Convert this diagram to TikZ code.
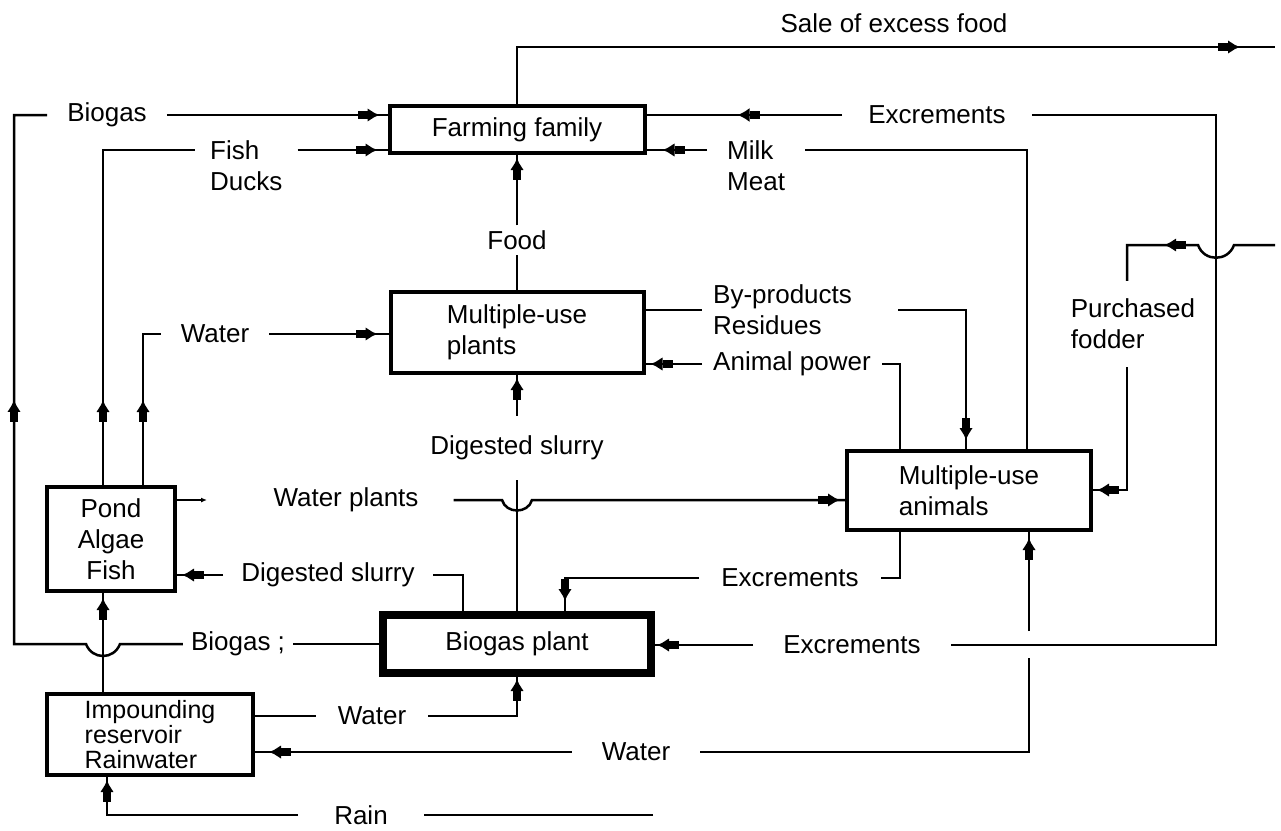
\documentclass[tikz,border=0pt]{standalone}
\usepackage{fontspec}
\setmainfont{Liberation Sans}
\usetikzlibrary{arrows.meta,decorations.markings,calc}
\newcommand\lblfont{\fontsize{26}{31}\selectfont}
\begin{document}
\begin{tikzpicture}[x=1pt,y=-1pt,
  >={Rectangle[length=10pt,width=8pt,sep=0pt]Latex[length=12pt,width=14pt]},
  conn/.style={line width=2.5pt},
  mk/.style={postaction={decorate,decoration={markings,mark=at position #1 with {\arrow{>}}}}},
  box/.style={draw,line width=4pt,inner sep=0pt,font=\lblfont},
  lbl/.style={inner xsep=20pt,inner ysep=6pt,font=\lblfont}]
\useasboundingbox (0,0) rectangle (1281,830);

% boxes
\node[box,minimum width=255pt,minimum height=47pt] (family) at (517,129.5) {Farming family};
\node[box,minimum width=253pt,minimum height=81pt,align=left] (plants) at (517,332.5) {Multiple-use\\plants};
\node[box,minimum width=244pt,minimum height=79pt,align=left] (animals) at (969,490.5) {Multiple-use\\animals};
\node[box,minimum width=128pt,minimum height=104pt,align=center] (pond) at (111,539) {Pond\\Algae\\Fish};
\node[box,line width=8pt,minimum width=268pt,minimum height=58pt] (bgp) at (517,644) {Biogas plant};
\node[box,minimum width=206pt,minimum height=81pt,align=left,font=\fontsize{25}{25}\selectfont] (res) at (150,734.5) {Impounding\\reservoir\\Rainwater};

% labels
\node[lbl] (sale) at (894,23) {Sale of excess food};
\node[lbl] (bg1) at (107,115) {Biogas};
\node[lbl,inner xsep=8pt] (bg2) at (238,644) {Biogas ;};
\node[lbl,align=left,anchor=north west,inner xsep=15pt] (fd) at (195,134) {Fish\\Ducks};
\node[lbl,align=left,anchor=north west] (mm) at (707,134) {Milk\\Meat};
\node[lbl,inner xsep=26pt] (ex1) at (937,115) {Excrements};
\node[lbl,inner ysep=5pt] (food) at (517,240) {Food};
\node[lbl] (wlbl) at (215,334) {Water};
\node[lbl,align=left,anchor=west,inner xsep=11pt] (bp) at (702,310) {By-products\\Residues};
\node[lbl,anchor=west,inner xsep=11pt] (ap) at (702,364) {Animal power};
\node[lbl,align=left,inner ysep=18pt,inner xsep=0pt] (pf) at (1133,324) {Purchased\\fodder};
\node[lbl,inner ysep=20pt] (ds1) at (517,448) {Digested slurry};
\node[lbl,inner xsep=35pt] (wpl) at (346,500) {Water plants};
\node[lbl,inner xsep=18pt] (ds2) at (328,575) {Digested slurry};
\node[lbl,inner xsep=22pt] (ex2) at (790,578) {Excrements};
\node[lbl,inner xsep=30pt] (ex3) at (852,645) {Excrements};
\node[lbl,inner xsep=22pt] (wb) at (372,716) {Water};
\node[lbl,inner xsep=30pt] (wl) at (636,752) {Water};
\node[lbl,inner xsep=36pt,inner ysep=2pt] (rain) at (361,815) {Rain};

% corner coordinates
\coordinate (saleend) at (1275,47);
\coordinate (bgl) at (14,644);
\coordinate (bgu) at (14,115);
\coordinate (fc) at (103,150);
\coordinate (wc) at (143,334);
\coordinate (mc) at (1027,150);
\coordinate (exc1) at (1216,115);
\coordinate (exc2) at (1216,645);
\coordinate (bps) at (898,310);
\coordinate (bpc) at (966,310);
\coordinate (apc) at (900,364);
\coordinate (pfs) at (1275,245);
\coordinate (pfc) at (1127,245);
\coordinate (pfd) at (1127,490);
\coordinate (wps) at (207,500);
\coordinate (dsc) at (463,575);
\coordinate (ex2a) at (900,578);
\coordinate (ex2b) at (565,578);
\coordinate (wbc) at (517,716);
\coordinate (wlc) at (1029,752);
\coordinate (wg1) at (1029,658);
\coordinate (wg2) at (1029,631);
\coordinate (rainend) at (653,815);
\coordinate (rc) at (107,815);

% connectors
\draw[conn,mk=-35pt] (family.north) |- (saleend);

\draw[conn] (bgp.west) -- (bg2.east);
\draw[conn,mk=-318pt] (bg2.west) -- (120,644) .. controls (114,660) and (92,660) .. (86,644) -- (bgl) -- (bgu) -- (bg1.west);
\draw[conn,mk=-8pt] (bg1.east) -- (family.west |- bg1);

\draw[conn,mk=85pt] (pond.north -| fc) -- (fc) -- (fd.west |- fc);
\draw[conn,mk=-10pt] (fd.east |- fc) -- (family.west |- fc);

\draw[conn,mk=85pt] (pond.north -| wc) -- (wc) -- (wlbl.west);
\draw[conn,mk=-11pt] (wlbl.east) -- (plants.west |- wlbl);

\draw[conn] (plants.north) -- (food.south);
\draw[conn,mk=-3pt] (food.north) -- (family.south);

\draw[conn] (ex1.east) -- (exc1) -- (exc2) -- (ex3.east);
\draw[line width=1.8pt,mk=-91pt] (ex1.west) -- (family.east |- ex1);
\draw[conn,mk=-2pt] (ex3.west) -- (bgp.east |- ex3);

\draw[conn] (animals.north -| mc) -- (mc) -- (mm.east |- mc);
\draw[conn,mk=-16pt] (mm.west |- mc) -- (family.east |- mc);

\draw[conn] (plants.east |- bp) -- (bp.west);
\draw[conn,mk=-9pt] (bps) -- (bpc) -- (animals.north -| bpc);

\draw[conn] (animals.north -| apc) -- (apc) -- (ap.east);
\draw[conn,mk=-5pt] (ap.west) -- (plants.east |- ap);

\draw[conn,mk=122pt] (pfs) -- (1234,245) .. controls (1228,262) and (1204,262) .. (1198,245) -- (pfc) -- (pfc |- pf.north);
\draw[conn,mk=-4pt] (pf.south -| pfc) -- (pfd) -- (animals.east |- pfd);

\draw[conn] (bgp.north) -- (ds1.south);
\draw[conn,mk=-3pt] (ds1.north) -- (plants.south);

\draw[line width=1.5pt,-{Latex[length=6pt,width=5pt]}] (pond.east |- wpl) -- (wps);
\draw[conn,mk=-5pt] (wpl.east) -- (502,500) .. controls (506,514) and (528,514) .. (532,500) -- (animals.west |- wpl);

\draw[conn] (bgp.north -| dsc) -- (dsc) -- (ds2.east);
\draw[conn,mk=-5pt] (ds2.west) -- (pond.east |- ds2);

\draw[conn] (animals.south -| ex2a) -- (ex2a) -- (ex2.east);
\draw[conn,mk=-10pt] (ex2.west) -- (ex2b) -- (bgp.north -| ex2b);

\draw[conn] (res.east |- wb) -- (wb.west);
\draw[conn,mk=-2pt] (wb.east) -- (wbc) -- (bgp.south);

\draw[conn] (wl.east) -- (wlc) -- (wg1);
\draw[conn,mk=-6pt] (wg2) -- (animals.south -| wg2);
\draw[conn,mk=-14pt] (wl.west) -- (res.east |- wl);

\draw[conn] (rainend) -- (rain.east |- rainend);
\draw[conn,mk=-3pt] (rain.west |- rc) -- (rc) -- (res.south -| rc);

\draw[conn,mk=-5pt] (res.north -| fc) -- (pond.south -| fc);
\end{tikzpicture}
\end{document}
